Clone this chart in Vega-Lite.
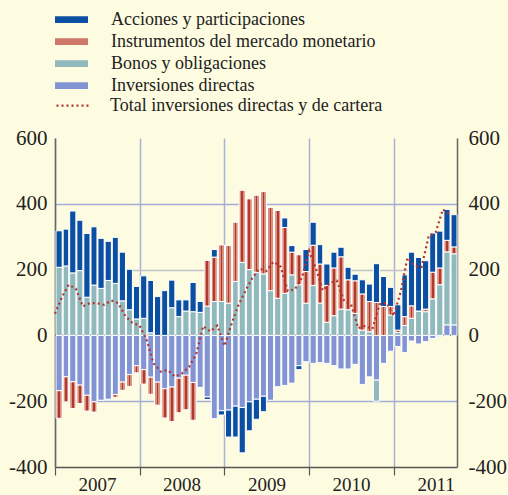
{
  "$schema": "https://vega.github.io/schema/vega-lite/v6.json",
  "width": 402,
  "height": 329,
  "autosize": {"type": "none"},
  "padding": {"left": 55, "top": 138, "right": 51, "bottom": 28},
  "background": "#FEFCE0",
  "config": {
    "view": {"stroke": null},
    "font": "Liberation Serif",
    "axis": {"labelFont": "Liberation Serif", "labelColor": "#222222", "labelFontSize": 21, "title": null}
  },
  "data": {
    "values": [
      {"mes": "2007-01", "dir": -168, "bon": 207, "ins": -84, "acc": 111, "tot": 66},
      {"mes": "2007-02", "dir": -126, "bon": 211, "ins": -76, "acc": 112, "tot": 118},
      {"mes": "2007-03", "dir": -141, "bon": 190, "ins": -81, "acc": 188, "tot": 154},
      {"mes": "2007-04", "dir": -151, "bon": 197, "ins": -56, "acc": 153, "tot": 142},
      {"mes": "2007-05", "dir": -182, "bon": 116, "ins": -48, "acc": 194, "tot": 88},
      {"mes": "2007-06", "dir": -202, "bon": 153, "ins": -31, "acc": 177, "tot": 98},
      {"mes": "2007-07", "dir": -197, "bon": 143, "ins": 0, "acc": 152, "tot": 98},
      {"mes": "2007-08", "dir": -194, "bon": 167, "ins": 0, "acc": 119, "tot": 93},
      {"mes": "2007-09", "dir": -180, "bon": 158, "ins": -8, "acc": 140, "tot": 106},
      {"mes": "2007-10", "dir": -142, "bon": 105, "ins": -25, "acc": 148, "tot": 98},
      {"mes": "2007-11", "dir": -119, "bon": 78, "ins": -36, "acc": 123, "tot": 58},
      {"mes": "2007-12", "dir": -92, "bon": 50, "ins": -22, "acc": 99, "tot": 38},
      {"mes": "2008-01", "dir": -104, "bon": 52, "ins": -44, "acc": 129, "tot": 30},
      {"mes": "2008-02", "dir": -127, "bon": 8, "ins": -52, "acc": 159, "tot": -15},
      {"mes": "2008-03", "dir": -142, "bon": 0, "ins": -70, "acc": 118, "tot": -85},
      {"mes": "2008-04", "dir": -162, "bon": 0, "ins": -89, "acc": 136, "tot": -110},
      {"mes": "2008-05", "dir": -157, "bon": 84, "ins": -105, "acc": 84, "tot": -105},
      {"mes": "2008-06", "dir": -130, "bon": 57, "ins": -105, "acc": 51, "tot": -125},
      {"mes": "2008-07", "dir": -121, "bon": 74, "ins": -105, "acc": 34, "tot": -116},
      {"mes": "2008-08", "dir": -143, "bon": 72, "ins": -115, "acc": 89, "tot": -96},
      {"mes": "2008-09", "dir": -158, "bon": 70, "ins": 0, "acc": 33, "tot": -57},
      {"mes": "2008-10", "dir": -187, "bon": 89, "ins": 139, "acc": -8, "tot": 28},
      {"mes": "2008-11", "dir": -253, "bon": 103, "ins": 135, "acc": 23, "tot": 12},
      {"mes": "2008-12", "dir": -229, "bon": 103, "ins": 172, "acc": -13, "tot": 30},
      {"mes": "2009-01", "dir": -227, "bon": 98, "ins": 175, "acc": -82, "tot": -32},
      {"mes": "2009-02", "dir": -215, "bon": 164, "ins": 180, "acc": -94, "tot": 36},
      {"mes": "2009-03", "dir": -219, "bon": 222, "ins": 219, "acc": -138, "tot": 90},
      {"mes": "2009-04", "dir": -202, "bon": 200, "ins": 215, "acc": -88, "tot": 135},
      {"mes": "2009-05", "dir": -194, "bon": 192, "ins": 234, "acc": -61, "tot": 174},
      {"mes": "2009-06", "dir": -185, "bon": 187, "ins": 250, "acc": -47, "tot": 203},
      {"mes": "2009-07", "dir": -197, "bon": 136, "ins": 254, "acc": 0, "tot": 196},
      {"mes": "2009-08", "dir": -156, "bon": 113, "ins": 267, "acc": 0, "tot": 224},
      {"mes": "2009-09", "dir": -152, "bon": 128, "ins": 200, "acc": 29, "tot": 208},
      {"mes": "2009-10", "dir": -145, "bon": 184, "ins": 69, "acc": 20, "tot": 135},
      {"mes": "2009-11", "dir": -92, "bon": 154, "ins": 91, "acc": -12, "tot": 140},
      {"mes": "2009-12", "dir": -80, "bon": 98, "ins": 96, "acc": 67, "tot": 175},
      {"mes": "2010-01", "dir": -85, "bon": 152, "ins": 122, "acc": 70, "tot": 257},
      {"mes": "2010-02", "dir": -83, "bon": 98, "ins": 119, "acc": 59, "tot": 200},
      {"mes": "2010-03", "dir": -85, "bon": 40, "ins": 112, "acc": 65, "tot": 136},
      {"mes": "2010-04", "dir": -92, "bon": 60, "ins": 145, "acc": 48, "tot": 160},
      {"mes": "2010-05", "dir": -102, "bon": 80, "ins": 159, "acc": 29, "tot": 166},
      {"mes": "2010-06", "dir": -102, "bon": 78, "ins": 91, "acc": 38, "tot": 104},
      {"mes": "2010-07", "dir": -88, "bon": 67, "ins": 99, "acc": 20, "tot": 94},
      {"mes": "2010-08", "dir": -149, "bon": 16, "ins": 110, "acc": 43, "tot": 22},
      {"mes": "2010-09", "dir": -126, "bon": 11, "ins": 92, "acc": 53, "tot": 29},
      {"mes": "2010-10", "dir": -136, "bon": -64, "ins": 100, "acc": 118, "tot": 19},
      {"mes": "2010-11", "dir": -85, "bon": 0, "ins": 88, "acc": 91, "tot": 94},
      {"mes": "2010-12", "dir": -48, "bon": 62, "ins": 26, "acc": 58, "tot": 100},
      {"mes": "2011-01", "dir": -34, "bon": 9, "ins": 7, "acc": 77, "tot": 59},
      {"mes": "2011-02", "dir": -52, "bon": 30, "ins": 27, "acc": 127, "tot": 135},
      {"mes": "2011-03", "dir": -17, "bon": 52, "ins": 38, "acc": 163, "tot": 236},
      {"mes": "2011-04", "dir": -26, "bon": 74, "ins": 0, "acc": 163, "tot": 211},
      {"mes": "2011-05", "dir": -19, "bon": 72, "ins": 8, "acc": 147, "tot": 208},
      {"mes": "2011-06", "dir": -9, "bon": 111, "ins": 81, "acc": 119, "tot": 302},
      {"mes": "2011-07", "dir": -4, "bon": 154, "ins": 51, "acc": 112, "tot": 313},
      {"mes": "2011-08", "dir": 32, "bon": 222, "ins": 35, "acc": 94, "tot": 383},
      {"mes": "2011-09", "dir": 32, "bon": 216, "ins": 21, "acc": 98, "tot": 367}
    ]
  },
  "layer": [
    {
      "mark": {"type": "rule", "color": "#333333", "strokeWidth": 1.2},
      "encoding": {
        "y": {
          "datum": 0,
          "type": "quantitative",
          "scale": {"domain": [-400, 600], "nice": false, "zero": false},
          "axis": {
            "orient": "left",
            "values": [-400, -200, 0, 200, 400, 600],
            "labelExpr": "'' + datum.value",
            "ticks": false,
            "labelPadding": 8,
            "domainColor": "#666666",
            "domainWidth": 1.5,
            "grid": true,
            "gridWidth": 1.5,
            "gridColor": {"condition": {"test": "datum.value === 200", "value": "#BFC2CC"}, "value": "#A4ADD8"},
            "gridOpacity": {"condition": {"test": "datum.value === 600 || datum.value === -400 || datum.value === 0", "value": 0}, "value": 1}
          }
        }
      }
    },
    {
      "transform": [
        {"fold": ["dir", "bon", "ins", "acc"], "as": ["serie", "valor"]},
        {"stack": "valor", "groupby": ["mes"], "as": ["v0", "v1"]}
      ],
      "mark": {"type": "bar", "stroke": "#FFFFFF", "strokeWidth": 1},
      "encoding": {
        "x": {
          "field": "mes",
          "timeUnit": "utcyearmonth",
          "type": "temporal",
          "scale": {"domain": [{"year": 2007, "month": 1, "date": 1, "utc": true}, {"year": 2011, "month": 10, "date": 1, "utc": true}]},
          "axis": {
            "values": [
              {"year": 2007, "month": 1, "date": 1, "utc": true},
              {"year": 2008, "month": 1, "date": 1, "utc": true},
              {"year": 2009, "month": 1, "date": 1, "utc": true},
              {"year": 2010, "month": 1, "date": 1, "utc": true},
              {"year": 2011, "month": 1, "date": 1, "utc": true}
            ],
            "format": "%Y",
            "labelFontSize": 19,
            "labelOffset": 42,
            "labelPadding": 0,
            "labelFlush": false,
            "labelOverlap": false,
            "tickSize": 8,
            "tickColor": "#555555",
            "tickWidth": 1.2,
            "domainColor": "#555555",
            "domainWidth": 1.5,
            "grid": true,
            "gridColor": "#A9B1D6",
            "gridWidth": 1.5
          }
        },
        "y": {"field": "v0", "type": "quantitative", "axis": null},
        "y2": {"field": "v1"},
        "color": {
          "condition": {
            "test": "datum.serie === 'ins'",
            "value": {
              "gradient": "linear", "x1": 0, "y1": 0, "x2": 1, "y2": 0,
              "stops": [
                {"offset": 0, "color": "#D8917F"},
                {"offset": 0.36, "color": "#D8917F"},
                {"offset": 0.36, "color": "#B2372D"},
                {"offset": 0.64, "color": "#B2372D"},
                {"offset": 0.64, "color": "#D8917F"},
                {"offset": 1, "color": "#D8917F"}
              ]
            }
          },
          "field": "serie",
          "type": "nominal",
          "scale": {"domain": ["acc", "ins", "bon", "dir"], "range": ["#0B4FA2", "#CD7868", "#90B9BD", "#8294D4"]},
          "legend": {
            "orient": "none",
            "legendX": 0,
            "legendY": -129,
            "title": null,
            "labelExpr": "{'acc': 'Acciones y participaciones', 'ins': 'Instrumentos del mercado monetario', 'bon': 'Bonos y obligaciones', 'dir': 'Inversiones directas'}[datum.label]",
            "symbolType": "M-1,-0.2H1V0.2H-1Z",
            "symbolSize": 1089,
            "symbolStrokeWidth": 0,
            "labelFont": "Liberation Serif",
            "labelFontSize": 18,
            "labelColor": "#222222",
            "labelLimit": 0,
            "labelOffset": 23,
            "clipHeight": 21.3,
            "rowPadding": 0
          }
        }
      }
    },
    {
      "mark": {"type": "line", "color": "#B5332E", "strokeWidth": 2.2, "strokeCap": "butt", "timeUnitBandPosition": 0.5},
      "encoding": {
        "x": {"field": "mes", "timeUnit": "utcyearmonth", "type": "temporal"},
        "y": {
          "field": "tot",
          "type": "quantitative",
          "axis": {
            "orient": "right",
            "values": [-400, -200, 0, 200, 400, 600],
            "labelExpr": "'' + datum.value",
            "ticks": false,
            "labelPadding": 11,
            "domainColor": "#666666",
            "domainWidth": 1.5,
            "grid": false
          }
        },
        "strokeDash": {
          "datum": "Total inversiones directas y de cartera",
          "type": "nominal",
          "scale": {"range": [[2, 3]]},
          "legend": {
            "orient": "none",
            "legendX": 0,
            "legendY": -43,
            "title": null,
            "symbolType": "stroke",
            "symbolSize": 1089,
            "symbolStrokeColor": "#B5332E",
            "symbolStrokeWidth": 2.2,
            "labelFont": "Liberation Serif",
            "labelFontSize": 18,
            "labelColor": "#222222",
            "labelLimit": 0,
            "labelOffset": 19,
            "clipHeight": 21.3
          }
        }
      }
    }
  ],
  "resolve": {"axis": {"y": "independent"}}
}
